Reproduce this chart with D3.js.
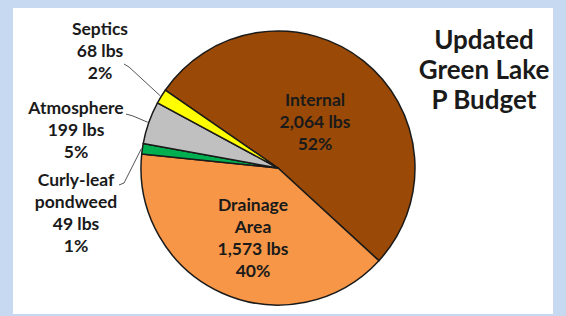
<!DOCTYPE html>
<html lang="en">
<head>
<meta charset="UTF-8">
<title>Updated Green Lake P Budget</title>
<script src="https://d3js.org/d3.v7.min.js"></script>
<style>
  html, body { margin: 0; padding: 0; background: #c6d9f0; }
  svg { display: block; }
  text { font-family: Lato, "Open Sans", sans-serif; font-weight: bold; fill: #1a1a1a; }
</style>
</head>
<body>
<div id="chart"></div>
<script>
// data
const sources = ["Internal", "Drainage Area", "Curly-leaf pondweed", "Atmosphere", "Septics"];
const pounds = [2064, 1573, 49, 199, 68];
const percents = ["52%", "40%", "1%", "5%", "2%"];
const colors = ["#9a4a06", "#f79646", "#00b050", "#c0c0c0", "#ffff00"];
const titleLines = ["Updated", "Green Lake", "P Budget"];

const W = 566, H = 316;
const svg = d3.select("#chart").append("svg").attr("width", W).attr("height", H);

// white panel
svg.append("rect").attr("x", 13).attr("y", 8).attr("width", 540).attr("height", 306).attr("fill", "#fff");

const cx = 278, cy = 168, r = 137;
const g = svg.append("g").attr("transform", `translate(${cx},${cy})`);

const data = sources.map((s, i) => ({ name: s, lbs: pounds[i], pct: percents[i], color: colors[i] }));

const pie = d3.pie().value(d => d.lbs).sort(null)
  .startAngle(-55.4 * Math.PI / 180)
  .endAngle((360 - 55.4) * Math.PI / 180);
const arcs = pie(data);
const arc = d3.arc().innerRadius(0).outerRadius(r);

g.selectAll("path.slice").data(arcs).enter().append("path")
  .attr("class", "slice")
  .attr("d", arc)
  .attr("fill", d => d.data.color)
  .attr("stroke", "#1a1a1a")
  .attr("stroke-width", 1.5)
  .attr("stroke-linejoin", "round");

const fmt = d3.format(",");
function lines(d) {
  const n = d.data.name;
  if (n === "Drainage Area") return ["Drainage", "Area", fmt(d.data.lbs) + " lbs", d.data.pct];
  if (n === "Curly-leaf pondweed") return ["Curly-leaf", "pondweed", fmt(d.data.lbs) + "  lbs", d.data.pct];
  return [n, fmt(d.data.lbs) + " lbs", d.data.pct];
}

// label layout (absolute page coords): centre x, first line baseline, leader start
const layout = {
  "Internal": { x: 315, y: 106 },
  "Drainage Area": { x: 253, y: 211 },
  "Septics": { x: 100, y: 35, lead: [[124, 64], [129, 67]] },
  "Atmosphere": { x: 76, y: 114, lead: [[126, 114], [133, 116]] },
  "Curly-leaf pondweed": { x: 76, y: 186, lead: [[119, 185], [124, 183]] }
};
const lh = 22;

arcs.forEach(d => {
  const L = layout[d.data.name];
  const t = svg.append("text").attr("text-anchor", "middle").attr("font-size", 17.5);
  lines(d).forEach((s, i) => {
    t.append("tspan").attr("x", L.x).attr("y", L.y + i * lh).text(s);
  });
  if (L.lead) {
    const ang = (d.startAngle + d.endAngle) / 2;
    const end = [cx + (r + 1) * Math.sin(ang), cy - (r + 1) * Math.cos(ang)];
    svg.append("path")
      .attr("d", d3.line()([...L.lead, end]))
      .attr("fill", "none")
      .attr("stroke", "#555")
      .attr("stroke-width", 1);
  }
});

// title
const title = svg.append("text").attr("text-anchor", "middle").attr("font-size", 26);
titleLines.forEach((s, i) => {
  title.append("tspan").attr("x", 484).attr("y", 49 + i * 30).text(s);
});
</script>
</body>
</html>
